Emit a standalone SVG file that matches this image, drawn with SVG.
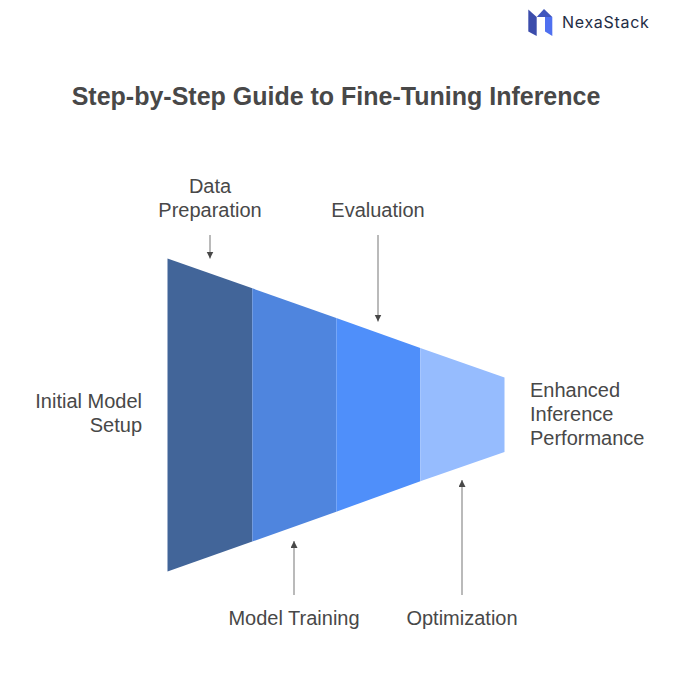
<svg xmlns="http://www.w3.org/2000/svg" width="687" height="680" viewBox="0 0 687 680">
<defs>
<style>
text{font-family:"Liberation Sans",Arial,sans-serif;fill:#484848;font-size:20px}
.t{font-size:25px;font-weight:700;fill:#484848}
.c{stroke:#a3a3a3;stroke-width:1.5;fill:none;marker-end:url(#a)}
.m{text-anchor:middle}
.e{text-anchor:end}
</style>
<marker id="a" markerUnits="userSpaceOnUse" markerWidth="8" markerHeight="8" refX="7" refY="3.500" orient="auto"><path d="M0 0L7 3.500L0 7Z" fill="#484848"/></marker>
</defs>
<rect width="687" height="680" fill="#fff"/>
<g id="logo">
<path d="M528.300 9.500L536.700 17V36L528.300 31.500Z" fill="#3b4cab"/>
<path d="M536.700 17L544 9L552.300 17H536.700Z" fill="#3f55bd"/>
<path d="M545 17H552.300V36L545 31.500Z" fill="#4f70f0"/>
<text x="562" y="28" style="font-family:Inter,'Liberation Sans',sans-serif;font-size:16px;font-weight:400;letter-spacing:.7px;fill:#1f2d45">NexaStack</text>
</g>
<text id="title" class="t" x="336" y="105" text-anchor="middle">Step-by-Step Guide to Fine-Tuning Inference</text>
<g id="stage-1"><path d="M167.500 258.500L252.300 288.300V541.500L167.500 571.500Z" fill="#426599"/></g>
<g id="stage-2"><path d="M252.300 288.300L336.300 318V511.700L252.300 541.500Z" fill="#4f85de"/></g>
<g id="stage-3"><path d="M336.300 318L420.300 347.900V481.300L336.300 511.700Z" fill="#4f8ffa"/></g>
<g id="stage-4"><path d="M420.300 347.900L504.500 377.500V452L420.300 481.300Z" fill="#96bcfe"/></g>
<g id="connectors">
<path class="c" d="M210 235V258.500"/>
<path class="c" d="M378 235V321.500"/>
<path class="c" d="M294 595V541"/>
<path class="c" d="M462 595V480"/>
</g>
<g id="label-initial"><text class="e" x="142" y="408">Initial Model</text><text class="e" x="142" y="432">Setup</text></g>
<g id="label-data"><text class="m" x="210" y="193">Data</text><text class="m" x="210" y="217">Preparation</text></g>
<g id="label-evaluation"><text class="m" x="378" y="217">Evaluation</text></g>
<g id="label-training"><text class="m" x="294" y="625">Model Training</text></g>
<g id="label-optimization"><text class="m" x="462" y="625">Optimization</text></g>
<g id="label-enhanced"><text x="530" y="397">Enhanced</text><text x="530" y="421">Inference</text><text x="530" y="445">Performance</text></g>
</svg>
